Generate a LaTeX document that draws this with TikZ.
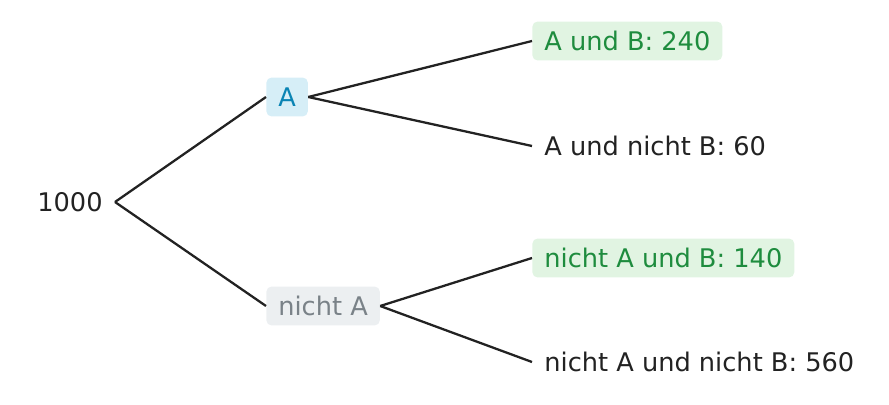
\documentclass[tikz,border=0pt]{standalone}
\usepackage{fontspec}
\setmainfont{DejaVu Sans}
\definecolor{edgecol}{HTML}{222222}
\definecolor{bluefill}{HTML}{D6EEF7}
\definecolor{bluetext}{HTML}{0A84B4}
\definecolor{greyfill}{HTML}{ECEFF1}
\definecolor{greytext}{HTML}{7A8288}
\definecolor{greenfill}{HTML}{E1F4E2}
\definecolor{greentext}{HTML}{1E8C3E}
\tikzset{
  lbl/.style={font=\fontsize{14.6}{17}\selectfont, text=edgecol, inner xsep=0.24cm, minimum height=0.78cm, rounded corners=3pt},
  hitA/.style={lbl, fill=bluefill, text=bluetext},
  missA/.style={lbl, fill=greyfill, text=greytext},
  hitB/.style={lbl, fill=greenfill, text=greentext},
  branch/.style={draw=edgecol, line width=1.3pt},
}
\begin{document}
\begin{tikzpicture}[x=0.02cm, y=-0.02cm]
  \useasboundingbox (0,0) rectangle (889,405);
  \node[lbl, anchor=east] (r) at (115,202) {1000};
  \node[hitA, anchor=west] (a) at (266,97) {A};
  \node[missA, anchor=west] (na) at (266,306) {nicht A};
  \node[hitB, anchor=west] (ab) at (532,41) {A und B: 240};
  \node[lbl, anchor=west] (anb) at (532,146) {A und nicht B: 60};
  \node[hitB, anchor=west] (nab) at (532,258) {nicht A und B: 140};
  \node[lbl, anchor=west] (nanb) at (532,362) {nicht A und nicht B: 560};
  \draw[branch] (r.east) -- (a.west);
  \draw[branch] (r.east) -- (na.west);
  \draw[branch] (a.east) -- (ab.west);
  \draw[branch] (a.east) -- (anb.west);
  \draw[branch] (na.east) -- (nab.west);
  \draw[branch] (na.east) -- (nanb.west);
\end{tikzpicture}
\end{document}
